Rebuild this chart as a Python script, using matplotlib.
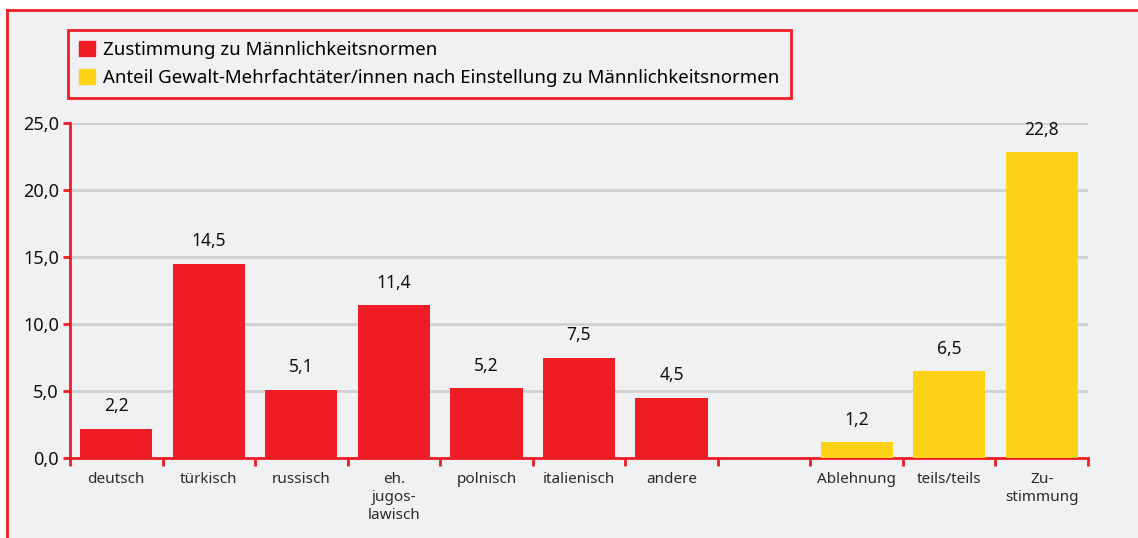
import numpy as np
import matplotlib.pyplot as plt
from matplotlib.patches import Rectangle, Patch
from matplotlib.lines import Line2D

plt.rcParams['font.family'] = ['Noto Sans', 'DejaVu Sans']

# data
herkunft = ['deutsch', 'türkisch', 'russisch', 'eh.\njugos-\nlawisch', 'polnisch', 'italienisch', 'andere']
zustimmung = [2.2, 14.5, 5.1, 11.4, 5.2, 7.5, 4.5]
einstellung = ['Ablehnung', 'teils/teils', 'Zu-\nstimmung']
anteil_taeter = [1.2, 6.5, 22.8]

rot = '#ee1c25'
gelb = '#fed317'
hintergrund = '#f0f1f3'

fig = plt.figure(figsize=(11.38, 5.38), dpi=100)
fig.patch.set_facecolor('white')

# outer frame (gray panel, red top and left line)
W, H = 1138, 538
fig.add_artist(Rectangle((7 / W, 0), 1 - 7 / W, (H - 10) / H, transform=fig.transFigure,
                         facecolor=hintergrund, edgecolor='none', zorder=-5))
fig.add_artist(Line2D([7 / W, 1], [1 - 10 / H, 1 - 10 / H], transform=fig.transFigure,
                      color=rot, lw=2, zorder=-4))
fig.add_artist(Line2D([7 / W, 7 / W], [0, 1 - 10 / H], transform=fig.transFigure,
                      color=rot, lw=2, zorder=-4))

ax = fig.add_axes([70 / W, 80 / H, 1018 / W, 335 / H])
ax.set_facecolor('none')

x_rot = np.arange(len(herkunft))
x_gelb = np.arange(len(einstellung)) + len(herkunft) + 1
breite = 0.78

b1 = ax.bar(x_rot, zustimmung, breite, color=rot, zorder=3)
b2 = ax.bar(x_gelb, anteil_taeter, breite, color=gelb, zorder=3)

for rects in (b1, b2):
    for r in rects:
        h = r.get_height()
        ax.text(r.get_x() + r.get_width() / 2, h + 1.0, ('%.1f' % h).replace('.', ','),
                ha='center', va='bottom', fontsize=12.5, color='#111111')

ax.set_xlim(-0.5, len(herkunft) + len(einstellung) + 0.5)
ax.set_ylim(0, 25)

ticks = list(x_rot) + list(x_gelb)
ax.set_xticks(ticks)
ax.set_xticklabels(herkunft + einstellung, fontsize=11, color='#2a2a2a', linespacing=1.3)
ax.tick_params(axis='x', length=0, pad=10)
ax.set_xticks(np.arange(-0.5, 11, 1), minor=True)
ax.tick_params(axis='x', which='minor', length=6, width=2, color=rot, direction='out')

ax.set_yticks(np.arange(0, 26, 5))
ax.set_yticklabels([('%.1f' % v).replace('.', ',') for v in np.arange(0, 26, 5)], fontsize=13, color='#111111')
ax.tick_params(axis='y', length=5, width=2, color=rot, pad=3)

ax.grid(axis='y', color='#d0d1d3', lw=2, zorder=0)
for s in ('top', 'right'):
    ax.spines[s].set_visible(False)
for s in ('left', 'bottom'):
    ax.spines[s].set_color(rot)
    ax.spines[s].set_linewidth(2)

handles = [Patch(color=rot), Patch(color=gelb)]
labels = ['Zustimmung zu Männlichkeitsnormen',
          'Anteil Gewalt-Mehrfachtäter/innen nach Einstellung zu Männlichkeitsnormen']
leg = ax.legend(handles, labels, loc='upper left', bbox_to_anchor=(-0.002, 1.278), borderaxespad=0,
                fontsize=13.4, frameon=True, fancybox=False, framealpha=1, handlelength=0.85,
                handleheight=0.85, handletextpad=0.45, labelspacing=0.55, borderpad=0.6)
leg.get_frame().set_edgecolor(rot)
leg.get_frame().set_linewidth(2)
leg.get_frame().set_facecolor(hintergrund)

fig.savefig('out.png', dpi=100)
